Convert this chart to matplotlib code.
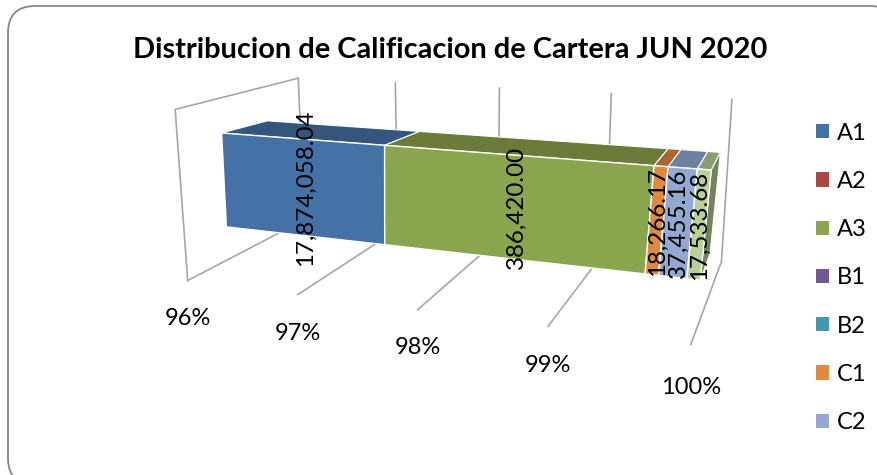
"""
Distribucion de Calificacion de Cartera - barra 3D apilada al 100%
"""
import numpy as np
import matplotlib
matplotlib.use('Agg')
import matplotlib.pyplot as plt
from matplotlib.patches import FancyBboxPatch, Patch, Polygon

series_names = ['A1', 'A2', 'A3', 'B1', 'B2', 'C1', 'C2', 'C3']
series_values = [17874058.04, 0.0, 386420.00, 0.0, 0.0, 18266.17, 37455.16, 17533.68]
value_labels = ['17,874,058.04', '', '386,420.00', '', '', '18,266.17', '37,455.16', '17,533.68']
label_dx = [3, 0, 5, 0, 0, 1, 1, 1]
front_colors = ['#4472A6', '#AA4643', '#89A54E', '#71588F', '#4198AF', '#DF8A42', '#93A9D2', '#BAD09A']
top_colors = ['#35557D', '#803432', '#6A7B3A', '#55426B', '#317283', '#AC6530', '#6E80A2', '#8A9C72']
side_color = '#71845E'
legend_names = series_names[:7]
tick_pcts = [96, 97, 98, 99, 100]
tick_labels = ['96%', '97%', '98%', '99%', '100%']
tick_dy = [38, 39, 38, 39, 43]

# camara de paredes: (pct-96, profundidad, altura) -> pixel de la imagen
wall_points = [
    (0, 0, 1, 175.7, 110), (0, 0, 0, 187.7, 280.7), (1, 0, 0, 297.3, 295.3),
    (2, 0, 0, 416.7, 310.7), (3, 0, 0, 548, 326), (4, 0, 0, 692, 342),
    (0, 1, 1, 297.7, 78.3), (1, 1, 1, 395, 82.7), (2, 1, 1, 500, 87),
    (3, 1, 1, 611, 94), (4, 1, 1, 732, 100), (4, 1, 0, 721, 263),
    (0, 1, 0, 305, 219),
]
# camara de la barra, con sus propias esquinas (las de la izquierda pesan doble)
bar_left = [(0, 0, 1, 220.7, 135.7), (0, 0, 0, 225.7, 226.5), (0, 1, 1, 268.3, 119.3)]
bar_points = bar_left + bar_left + [
    (1.49, 0, 1, 384, 147.3), (1.49, 0, 0, 385.7, 242.7), (1.49, 1, 1, 419.3, 130),
    (3.6, 0, 1, 654, 166.7), (3.6, 0, 0, 647.3, 271), (3.6, 1, 1, 668, 146.7),
    (4, 0, 1, 710, 170), (4, 0, 0, 701.7, 276.7), (4, 1, 1, 721.3, 150.7),
    (4, 1, 0, 706.7, 262),
]


def fit_camera(points):
    A, b = [], []
    for p, d, z, u, v in points:
        A.append([p, d, z, 1, 0, 0, 0, 0, -u * p, -u * d, -u * z])
        A.append([0, 0, 0, 0, p, d, z, 1, -v * p, -v * d, -v * z])
        b += [u, v]
    h = np.linalg.lstsq(np.array(A, float), np.array(b, float), rcond=None)[0]
    return np.append(h, 1).reshape(3, 4)


wall_cam = fit_camera(wall_points)
bar_cam = fit_camera(bar_points)


def project(cam, p, d, z):
    x = cam @ np.array([p, d, z, 1.0])
    return x[0] / x[2], x[1] / x[2]


fig = plt.figure(figsize=(8.78, 4.75), dpi=100)
plt.rcParams['font.family'] = ['Lato', 'DejaVu Sans']
ax = fig.add_axes([0, 0, 1, 1])
ax.set_xlim(0, 878)
ax.set_ylim(475, 0)
ax.axis('off')

ax.add_patch(FancyBboxPatch((8, 6), 889, 479, boxstyle='round,pad=0,rounding_size=27',
                            fc='white', ec='#868686', lw=1.3, clip_on=True))

ax.text(450, 50, 'Distribucion de Calificacion de Cartera JUN 2020',
        fontsize=20.9, fontweight='bold', color='black', ha='center', va='center')

# paredes y rejilla
grid_color = '#A6A6A6'
for i, pct in enumerate(tick_pcts):
    p = pct - 96
    front = project(wall_cam, p, 0, 0)
    back = project(wall_cam, p, 1, 0)
    top = project(wall_cam, p, 1, 1)
    ax.plot([front[0], back[0]], [front[1], back[1]], color=grid_color, lw=1.2, zorder=1)
    ax.plot([back[0], top[0]], [back[1], top[1]], color=grid_color, lw=1.2, zorder=1)
    ax.text(front[0], front[1] + tick_dy[i], tick_labels[i], fontsize=17,
            ha='center', va='center')
wall = [project(wall_cam, 0, 1, 1), project(wall_cam, 0, 0, 1), project(wall_cam, 0, 0, 0)]
ax.plot([w[0] for w in wall], [w[1] for w in wall], color=grid_color, lw=1.2, zorder=1)

# barra apilada
total = sum(series_values)
left = 0.0
for i, val in enumerate(series_values):
    if val == 0:
        continue
    right = left + val
    a = max(100 * left / total - 96, 0)
    b = 100 * right / total - 96
    top_face = [project(bar_cam, a, 0, 1), project(bar_cam, b, 0, 1),
                project(bar_cam, b, 1, 1), project(bar_cam, a, 1, 1)]
    front_face = [project(bar_cam, a, 0, 1), project(bar_cam, b, 0, 1),
                  project(bar_cam, b, 0, 0), project(bar_cam, a, 0, 0)]
    ax.add_patch(Polygon(top_face, fc=top_colors[i], ec='white', lw=0.8, zorder=3))
    ax.add_patch(Polygon(front_face, fc=front_colors[i], ec='white', lw=1.0, zorder=4))
    cx, cy = project(bar_cam, (a + b) / 2, 0, 0.5)
    ax.text(cx + label_dx[i], cy, value_labels[i], rotation=90, fontsize=17.4, color='black',
            ha='center', va='center', zorder=6)
    left = right
side_face = [project(bar_cam, 4, 0, 1), project(bar_cam, 4, 1, 1),
             project(bar_cam, 4, 1, 0), project(bar_cam, 4, 0, 0)]
ax.add_patch(Polygon(side_face, fc=side_color, ec='white', lw=0.8, zorder=3.5))

handles = [Patch(fc=front_colors[series_names.index(n)], ec='none') for n in legend_names]
ax.legend(handles, legend_names, loc='upper left', bbox_to_anchor=(816 / 878, 1 - 122.5 / 475),
          frameon=False, fontsize=17, handlelength=0.56, handleheight=0.56,
          handletextpad=0.34, labelspacing=1.155, borderpad=0, borderaxespad=0)

fig.savefig('out.png', dpi=100)
